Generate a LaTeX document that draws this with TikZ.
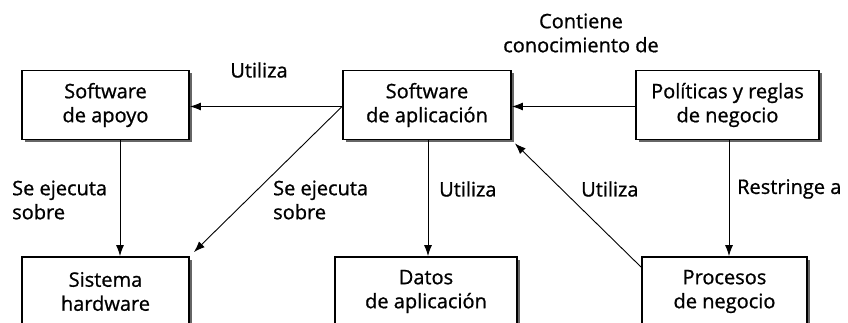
\documentclass[tikz,border=0pt]{standalone}
\usepackage{fontspec}
\setmainfont{Open Sans}
\newfontfamily\dfont{Open Sans}[FakeBold=0.9]
\usetikzlibrary{arrows.meta,shadows}
\begin{document}
\begin{tikzpicture}[x=1pt,y=-1pt,
  txt/.style={font=\dfont\fontsize{20}{24}\selectfont},
  box/.style={txt,draw,line width=1.8pt,fill=white,minimum height=69pt,align=center,
    general shadow={fill=black!60,shadow xshift=2.5pt,shadow yshift=-2.5pt}},
  lbl/.style={txt,inner sep=0pt,align=left},
  arr/.style={line width=0.9pt,-{Latex[length=11pt,width=8pt]}}]
\useasboundingbox (0,0) rectangle (848,323);
\clip (0,0) rectangle (848,323);
\node[box,minimum width=167pt] (apoyo) at (105.5,105) {Software\\de apoyo};
\node[box,minimum width=168pt] (aplic) at (427,105) {Software\\de aplicación};
\node[box,minimum width=183pt] (polit) at (727.5,105) {Políticas y reglas\\de negocio};
\node[box,minimum width=167pt] (hw) at (105.5,291.5) {Sistema\\hardware};
\node[box,minimum width=182pt] (datos) at (426,291.5) {Datos\\de aplicación};
\node[box,minimum width=165pt] (proc) at (724.5,291.5) {Procesos\\de negocio};

\draw[arr] ([yshift=-1.5pt]aplic.west) -- ([yshift=-1.5pt]apoyo.east);
\draw[arr] ([yshift=-1.5pt]polit.west) -- ([yshift=-1.5pt]aplic.east);
\draw[arr] ([xshift=14.5pt]apoyo.south) -- ([xshift=14.5pt]apoyo.south |- hw.north);
\draw[arr] ([yshift=-1.5pt]aplic.west) -- ([shift={(4pt,4pt)}]hw.north east);
\draw[arr] ([xshift=1pt]aplic.south) -- ([xshift=1pt]aplic.south |- datos.north);
\draw[arr] ([yshift=-11pt]proc.north west) -- ([shift={(3pt,-3pt)}]aplic.south east);
\draw[arr] ([xshift=1.5pt]polit.south) -- ([xshift=1.5pt]polit.south |- proc.north);

\node[lbl] (l1) at (259,70) {Utiliza};
\node[lbl,align=center] (l2) at (581,33) {Contiene\\conocimiento de};
\node[lbl,anchor=west] (l3) at (12,200) {Se ejecuta\\sobre};
\node[lbl,anchor=west] (l4) at (273,200) {Se ejecuta\\sobre};
\node[lbl,anchor=west] (l5) at (439,189) {Utiliza};
\node[lbl,anchor=west] (l6) at (581,189) {Utiliza};
\node[lbl,anchor=west] (l7) at (737,189) {Restringe a};
\end{tikzpicture}
\end{document}
